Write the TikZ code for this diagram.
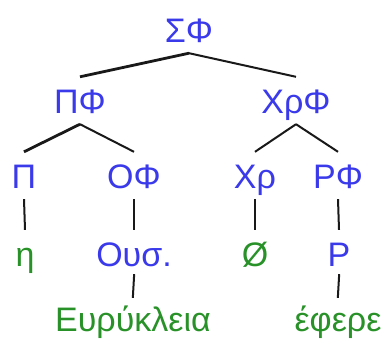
\documentclass[tikz,border=0pt]{standalone}
\usepackage{fontspec}
\setmainfont{Liberation Sans}
\usepackage{tikz}
\usetikzlibrary{positioning}
\definecolor{catblue}{RGB}{58,58,235}
\definecolor{wordgreen}{RGB}{40,145,40}
\tikzset{
  cat/.style={inner xsep=0pt,inner ysep=11pt,anchor=base,text height=25pt,text depth=0pt,text=catblue},
  word/.style={cat,text=wordgreen},
  branch/.style={draw=black!90,line width=2pt},
  heavy/.style={branch,line width=2.8pt},
  stem/.style={branch,shorten <=-3pt,shorten >=-3pt}
}

\begin{document}
\begin{tikzpicture}[x=1pt,y=-1pt,font=\fontsize{34}{40}\selectfont]
\useasboundingbox (0,0) rectangle (382,340);
% categories
\node[cat] (sf) at (189,42) {ΣΦ};
\node[cat] (pf) at (80,113) {ΠΦ};
\node[cat] (xf) at (296,113) {ΧρΦ};
\node[cat] (p) at (24,188) {Π};
\node[cat] (of) at (134,188) {ΟΦ};
\node[cat] (x) at (255,188) {Χρ};
\node[cat] (rf) at (338,188) {ΡΦ};
\node[word] (eta) at (25,266) {η};
\node[cat] (ous) at (134,266) {Ουσ.};
\node[word] (zero) at (255,266) {Ø};
\node[cat] (r) at (339,266) {Ρ};
% words
\node[word] (eur) at (133,331) {Ευρύκλεια};
\node[word] (efere) at (338,331) {έφερε};
% branches
\draw[heavy] (sf.south) -- (pf.north);
\draw[branch] (sf.south) -- (xf.north);
\draw[heavy] (pf.south) -- (p.north);
\draw[branch] (pf.south) -- (of.north);
\draw[branch] (xf.south) -- (x.north);
\draw[branch] (xf.south) -- (rf.north);
\draw[branch] (p.south) -- (eta.north);
\draw[branch] (of.south) -- (ous.north);
\draw[branch] (x.south) -- (zero.north);
\draw[branch] (rf.south) -- (r.north);
\draw[stem] (ous.south) -- (eur.north);
\draw[stem] (r.south) -- (efere.north);
\end{tikzpicture}
\end{document}
